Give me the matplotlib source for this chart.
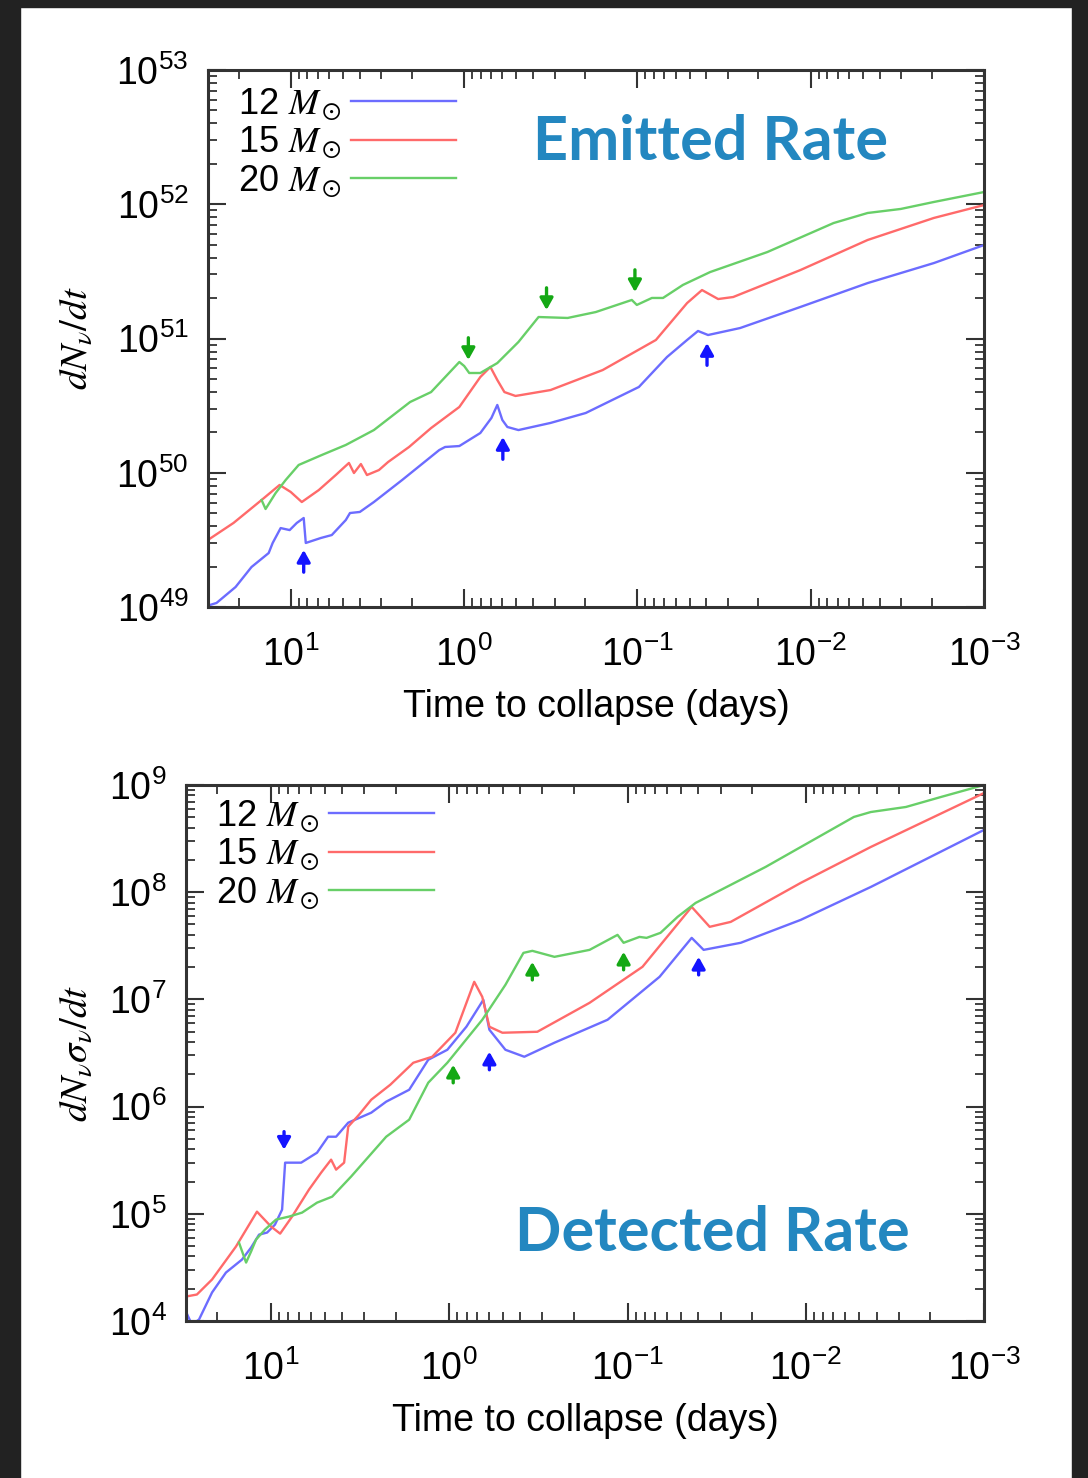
import numpy as np
import matplotlib
matplotlib.use('Agg')
import matplotlib.pyplot as plt
from matplotlib.ticker import LogLocator, NullFormatter
from matplotlib.patches import Rectangle

plt.rcParams['font.family'] = ['Liberation Sans', 'DejaVu Sans']
plt.rcParams['mathtext.fontset'] = 'stix'
plt.rcParams['axes.unicode_minus'] = False

# values, as log10(days) and log10(rate)
emit_12_logt = [1.486, 1.428, 1.318, 1.226, 1.127, 1.104, 1.058, 1.006, 0.965, 0.925, 0.913, 0.826, 0.763,
                0.682, 0.658, 0.601, 0.520, 0.357, 0.143, 0.109, 0.027, -0.094, -0.158, -0.192, -0.221,
                -0.250, -0.314, -0.499, -0.702, -1.009, -1.171, -1.287, -1.350, -1.408, -1.593, -1.941,
                -2.329, -2.711, -3.000]
emit_12_logr = [49.007, 49.030, 49.149, 49.298, 49.402, 49.477, 49.588, 49.573, 49.626, 49.663, 49.477,
                49.514, 49.536, 49.648, 49.700, 49.708, 49.782, 49.946, 50.169, 50.192, 50.199, 50.296,
                50.408, 50.505, 50.393, 50.341, 50.318, 50.371, 50.445, 50.639, 50.862, 50.989, 51.056,
                51.026, 51.078, 51.235, 51.413, 51.562, 51.696]
emit_15_logt = [1.486, 1.330, 1.168, 1.064, 1.000, 0.936, 0.838, 0.740, 0.664, 0.635, 0.595, 0.560, 0.491,
                0.438, 0.317, 0.190, 0.027, -0.094, -0.152, -0.192, -0.233, -0.297, -0.499, -0.800,
                -1.107, -1.287, -1.373, -1.466, -1.553, -1.941, -2.329, -2.711, -3.000]
emit_15_logr = [49.492, 49.626, 49.797, 49.909, 49.857, 49.782, 49.871, 49.983, 50.073, 49.998, 50.065,
                49.983, 50.020, 50.080, 50.192, 50.333, 50.490, 50.713, 50.788, 50.691, 50.601, 50.572,
                50.616, 50.765, 50.989, 51.264, 51.361, 51.294, 51.309, 51.510, 51.734, 51.898, 51.994]
emit_20_logt = [1.168, 1.145, 1.087, 1.029, 0.954, 0.821, 0.682, 0.520, 0.311, 0.190, 0.027, -0.001,
                -0.030, -0.094, -0.192, -0.314, -0.430, -0.598, -0.760, -0.968, -0.997, -1.084, -1.148,
                -1.263, -1.420, -1.750, -2.132, -2.329, -2.520, -2.711, -3.000]
emit_20_logr = [49.797, 49.730, 49.849, 49.946, 50.058, 50.132, 50.207, 50.318, 50.527, 50.601, 50.825,
                50.795, 50.743, 50.743, 50.817, 50.974, 51.160, 51.153, 51.197, 51.287, 51.250, 51.302,
                51.302, 51.399, 51.495, 51.644, 51.860, 51.935, 51.965, 52.017, 52.091]

det_12_logt = [1.478, 1.444, 1.404, 1.331, 1.253, 1.163, 1.112, 1.067, 1.022, 0.978, 0.938, 0.921, 0.831,
               0.742, 0.680, 0.635, 0.567, 0.438, 0.354, 0.225, 0.118, 0.011, -0.096, -0.191, -0.225,
               -0.315, -0.421, -0.590, -0.888, -1.180, -1.360, -1.427, -1.635, -1.972, -2.365, -3.000]
det_12_logr = [4.089, 3.967, 4.014, 4.266, 4.452, 4.573, 4.685, 4.806, 4.825, 4.899, 5.039, 5.477, 5.477,
               5.570, 5.719, 5.719, 5.850, 5.943, 6.046, 6.157, 6.437, 6.530, 6.745, 6.996, 6.717, 6.530,
               6.465, 6.596, 6.810, 7.211, 7.574, 7.462, 7.528, 7.742, 8.049, 8.581]
det_15_logt = [1.478, 1.416, 1.331, 1.197, 1.079, 1.000, 0.949, 0.882, 0.787, 0.719, 0.663, 0.635, 0.590,
               0.567, 0.506, 0.438, 0.331, 0.202, 0.096, -0.034, -0.140, -0.185, -0.225, -0.298, -0.494,
               -0.787, -1.084, -1.360, -1.461, -1.579, -1.972, -2.365, -3.000]
det_15_logr = [4.228, 4.247, 4.387, 4.694, 5.020, 4.881, 4.815, 4.974, 5.226, 5.384, 5.505, 5.412, 5.477,
               5.813, 5.925, 6.064, 6.204, 6.409, 6.465, 6.689, 7.164, 7.024, 6.745, 6.689, 6.698, 6.968,
               7.304, 7.863, 7.677, 7.723, 8.087, 8.422, 8.925]
det_20_logt = [1.180, 1.140, 1.112, 1.084, 1.034, 0.972, 0.899, 0.826, 0.742, 0.657, 0.551, 0.354, 0.225,
               0.118, 0.011, -0.185, -0.315, -0.416, -0.466, -0.590, -0.787, -0.944, -0.978, -1.067,
               -1.107, -1.185, -1.281, -1.382, -1.775, -2.270, -2.365, -2.562, -2.758, -3.000]
det_20_logr = [4.732, 4.545, 4.648, 4.760, 4.853, 4.946, 4.974, 5.011, 5.104, 5.160, 5.347, 5.719, 5.878,
               6.223, 6.409, 6.810, 7.136, 7.434, 7.453, 7.397, 7.462, 7.602, 7.528, 7.583, 7.574, 7.621,
               7.770, 7.900, 8.236, 8.702, 8.748, 8.795, 8.888, 9.000]

# arrow tips: log10(days), log10(rate), mass, pointing up?
emit_arrow_logt = [0.925, -0.224, -1.402, -0.025, -0.476, -0.986]
emit_arrow_logr = [49.425, 50.266, 50.966, 50.840, 51.212, 51.346]
emit_arrow_mass = [12, 12, 12, 20, 20, 20]
emit_arrow_up = [True, True, True, False, False, False]
det_arrow_logt = [0.927, -0.225, -1.399, -0.022, -0.466, -0.978]
det_arrow_logr = [5.598, 6.512, 7.397, 6.390, 7.350, 7.444]
det_arrow_mass = [12, 12, 12, 20, 20, 20]
det_arrow_up = [False, True, True, True, True, True]

masses = [12, 15, 20]
line_col = {12: '#6c6cff', 15: '#ff6a6a', 20: '#68cf68'}
arrow_col = {12: '#1414ff', 20: '#14a814'}
title_col = '#2387c0'

fig = plt.figure(figsize=(10.88, 14.78), dpi=100)
fig.patch.set_facecolor('white')
for r in [(0, 0, 20/1088, 1), (1072/1088, 0, 16/1088, 1), (0, 1-7/1478, 1, 7/1478)]:
    fig.add_artist(Rectangle(r[:2], r[2], r[3], transform=fig.transFigure, color='#222222', zorder=0))


def panel(ax, series, ylim, ylabel, ylab_x, arrows, alen, title, tpos, leg_y):
    for m, (lt, lr) in zip(masses, series):
        ax.plot(10**np.array(lt), 10**np.array(lr), color=line_col[m], lw=1.7,
                label=f'{m} $M_\\odot$')
    for lt, lr, m, up in zip(*arrows):
        off = -alen if up else alen
        ax.annotate('', xy=(10**lt, 10**lr), xytext=(0, off), textcoords='offset points',
                    arrowprops=dict(arrowstyle='-|>,head_length=0.5,head_width=0.28',
                                    color=arrow_col[m], lw=2.4, shrinkA=0, shrinkB=0,
                                    mutation_scale=14))
    ax.set_xscale('log')
    ax.set_yscale('log')
    ax.set_xlim(30, 1e-3)
    ax.set_ylim(*ylim)
    for axis in (ax.xaxis, ax.yaxis):
        axis.set_major_locator(LogLocator(base=10, numticks=20))
        axis.set_minor_locator(LogLocator(base=10, subs=np.arange(2, 10), numticks=100))
        axis.set_minor_formatter(NullFormatter())
    ax.tick_params(which='both', direction='in', top=True, right=True, color='#333333')
    ax.tick_params(which='major', length=13, width=1.5, labelsize=27)
    ax.tick_params(which='minor', length=6.5, width=1.3)
    ax.tick_params(axis='x', which='major', pad=21)
    ax.tick_params(axis='y', which='major', pad=14)
    for s in ax.spines.values():
        s.set_linewidth(2.2)
        s.set_color('#333333')
    ax.set_xlabel('Time to collapse (days)', fontsize=27, labelpad=11)
    ax.set_ylabel(ylabel, fontsize=28)
    ax.yaxis.set_label_coords(ylab_x, 0.5)
    ax.legend(loc='upper left', bbox_to_anchor=(0.02, leg_y), markerfirst=False, frameon=False,
              fontsize=26, handlelength=2.9, handletextpad=0.25, labelspacing=0.05,
              borderaxespad=0)
    ax.text(tpos[0], tpos[1], title, transform=ax.transAxes, ha='center', va='center',
            fontsize=44, fontweight='bold', family='Lato', color=title_col)


ax1 = fig.add_axes([208/1088, 1-607/1478, 776/1088, 537/1478])
panel(ax1, [(emit_12_logt, emit_12_logr), (emit_15_logt, emit_15_logr), (emit_20_logt, emit_20_logr)],
      (1e49, 1e53), r'$dN_\nu/dt$', -0.146,
      (emit_arrow_logt, emit_arrow_logr, emit_arrow_mass, emit_arrow_up), 16,
      'Emitted Rate', (0.647, 0.865), 0.997)

ax2 = fig.add_axes([186/1088, 1-1321/1478, 798/1088, 536/1478])
panel(ax2, [(det_12_logt, det_12_logr), (det_15_logt, det_15_logr), (det_20_logt, det_20_logr)],
      (1e4, 1e9), r'$dN_\nu\sigma_\nu/dt$', -0.114,
      (det_arrow_logt, det_arrow_logr, det_arrow_mass, det_arrow_up), 13,
      'Detected Rate', (0.659, 0.164), 1.003)

fig.savefig('out.png', dpi=100)
